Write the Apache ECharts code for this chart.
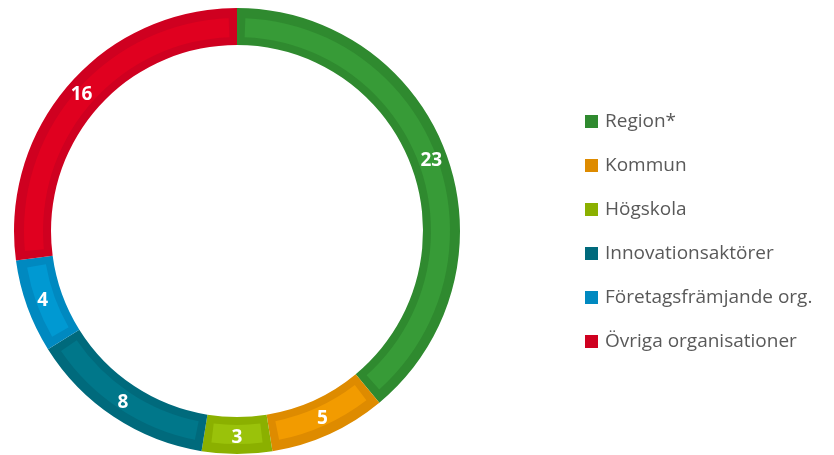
<!DOCTYPE html>
<html><head><meta charset="utf-8">
<script src="https://cdn.jsdelivr.net/npm/echarts@6/dist/echarts.min.js"></script>
<style>html,body{margin:0;padding:0;background:#fff}#c{width:834px;height:455px}</style>
</head><body><div id="c"></div>
<script>
const categories = ['Region*', 'Kommun', 'Högskola', 'Innovationsaktörer', 'Företagsfrämjande org.', 'Övriga organisationer'];
const values = [23, 5, 3, 8, 4, 16];
const baseColors = ['#2F8A2F', '#DE8B00', '#8BB000', '#006A7C', '#0089C0', '#CF0020'];
const innerColors = ['#379B37', '#F29B00', '#9AC20A', '#00778A', '#0099D2', '#E0001F'];

const chart = echarts.init(document.getElementById('c'));
const font = '"Open Sans", "Liberation Sans", sans-serif';
chart.setOption({
  animation: false,
  legend: {
    orient: 'vertical', left: 585, top: 112, itemGap: 25, padding: 0,
    itemWidth: 13, itemHeight: 13, icon: 'rect',
    textStyle: { fontSize: 19, color: '#595959', fontFamily: font, padding: [0, 0, 0, 2] },
    data: categories
  },
  series: [{
    type: 'pie', center: [237, 231], radius: [186, 223], startAngle: 90, clockwise: true,
    label: { show: false },
    labelLine: { show: false },
    itemStyle: { borderWidth: 0 },
    z: 2,
    data: categories.map((n, i) => ({ name: n, value: values[i], itemStyle: { color: baseColors[i] } }))
  }, {
    type: 'pie', center: [237, 231], radius: [194, 213], startAngle: 90, clockwise: true,
    padAngle: 4.5, silent: true, legendHoverLink: false,
    label: { show: true, position: 'inside', color: '#fff', fontWeight: 'bold', fontSize: 19, fontFamily: font, formatter: '{c}' },
    labelLine: { show: false },
    data: categories.map((n, i) => ({ name: n, value: values[i], itemStyle: { color: innerColors[i] } })),
    z: 5
  }]
});
</script></body></html>
